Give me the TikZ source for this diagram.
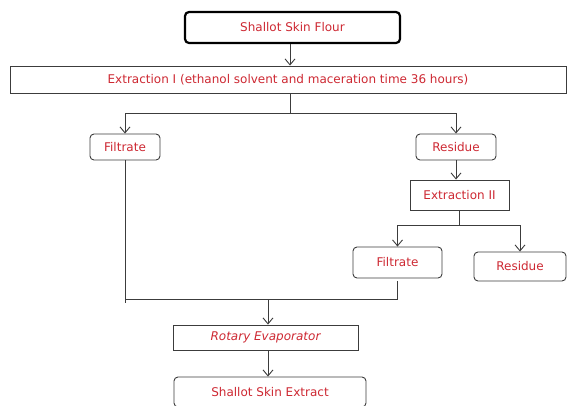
\documentclass[tikz,border=0pt]{standalone}
\usepackage{fontspec}
\setmainfont{DejaVu Sans}
\usetikzlibrary{arrows.meta}
\definecolor{txtred}{RGB}{205,40,50}
\definecolor{linegray}{RGB}{60,60,60}
\begin{document}
\begin{tikzpicture}[x=1pt, y=-1pt,
		box/.style={draw=linegray, line width=0.9pt, text=txtred, inner sep=0pt,
			font=\fontsize{12}{14}\selectfont},
		rbox/.style={box, rounded corners=4pt},
		flow/.style={draw=linegray, line width=0.9pt, -{Straight Barb[length=6pt,width=10pt]}},
		link/.style={draw=linegray, line width=0.9pt}]
	\useasboundingbox (0,0) rectangle (567,405);

	% Extraction I
	\node[rbox, line width=2.2pt, draw=black, minimum width=215, minimum height=31] (flour) at (292.5,27.5) {Shallot Skin Flour};
	\node[box, minimum width=556, minimum height=27] (ext1) at (288,79.5) {Extraction I (ethanol solvent and maceration time 36 hours)};
	\node[rbox, minimum width=70, minimum height=26] (fil1) at (125,147) {Filtrate};
	\node[rbox, minimum width=80, minimum height=26] (res1) at (456,147) {Residue};

	% Extraction II
	\node[box, minimum width=99, minimum height=30] (ext2) at (459.5,195) {Extraction II};
	\node[rbox, minimum width=89, minimum height=31] (fil2) at (397.5,262.5) {Filtrate};
	\node[rbox, minimum width=92, minimum height=29] (res2) at (520,266.5) {Residue};

	% Evaporation
	\node[box, minimum width=185, minimum height=25, font=\fontsize{12}{14}\selectfont\itshape] (rotary) at (265.5,337.5) {Rotary Evaporator};
	\node[rbox, minimum width=192, minimum height=30] (extract) at (270,392) {Shallot Skin Extract};

	\coordinate (s1) at (290,113);
	\coordinate (s2) at (459,225);
	\coordinate (m) at (268,299);

	\draw[flow] (flour.south -| s1) -- (ext1.north -| s1);
	\draw[link] (ext1.south -| s1) -- (s1);
	\draw[link] (fil1.north |- s1) -- (res1.north |- s1);
	\draw[flow] (fil1.north |- s1) -- (fil1.north);
	\draw[flow] (res1.north |- s1) -- (res1.north);
	\draw[flow] (res1.south) -- (res1.south |- ext2.north);
	\draw[link] (ext2.south -| s2) -- (s2);
	\draw[link] (fil2.north |- s2) -- (res2.north |- s2);
	\draw[flow] (fil2.north |- s2) -- (fil2.north);
	\draw[flow] (res2.north |- s2) -- (res2.north);
	\draw[link] (fil1.south) -- ([yshift=-4pt]fil1.south |- m);
	\draw[link] (fil1.south |- m) -- (fil2.south |- m);
	\draw[link, shorten <=3pt] (fil2.south) -- (fil2.south |- m);
	\draw[flow] (m) -- (m |- rotary.north);
	\draw[flow] (rotary.south -| m) -- (extract.north -| m);
\end{tikzpicture}
\end{document}
